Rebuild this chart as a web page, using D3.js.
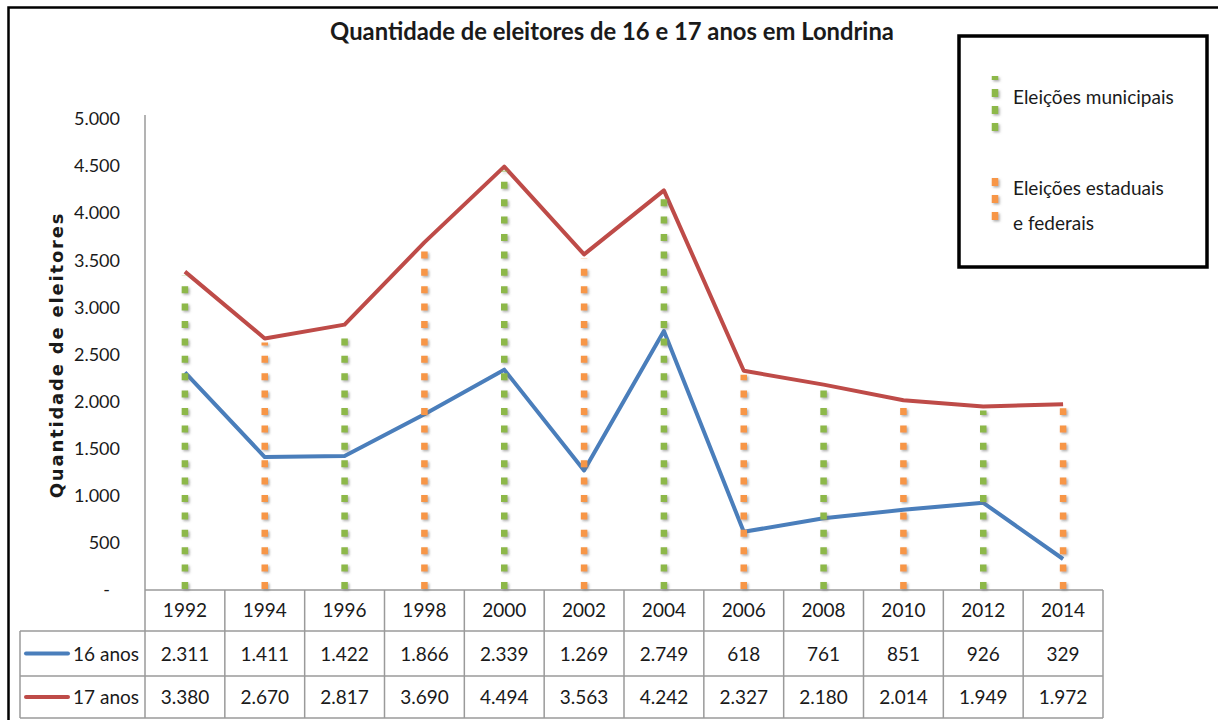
<!DOCTYPE html>
<html>
<head>
<meta charset="utf-8">
<script src="https://cdn.jsdelivr.net/npm/d3@7"></script>
<style>
  body { margin: 0; background: #fff; }
  svg { display: block; }
  text { font-family: Lato, "Open Sans", sans-serif; fill: #1a1a1a; }
</style>
</head>
<body>
<div id="chart"></div>
<script>
const years = ["1992", "1994", "1996", "1998", "2000", "2002", "2004", "2006", "2008", "2010", "2012", "2014"];
const anos16 = [2311, 1411, 1422, 1866, 2339, 1269, 2749, 618, 761, 851, 926, 329];
const anos17 = [3380, 2670, 2817, 3690, 4494, 3563, 4242, 2327, 2180, 2014, 1949, 1972];
const electionType = ["mun", "est", "mun", "est", "mun", "est", "mun", "est", "mun", "est", "mun", "est"];
const seriesNames = ["16 anos", "17 anos"];
const yTicks = [0, 500, 1000, 1500, 2000, 2500, 3000, 3500, 4000, 4500, 5000];
const legendLabels = [["Eleições municipais"], ["Eleições estaduais", "e federais"]];

const BLUE = "#4A7EBB";
const RED = "#BE4B48";
const GREEN = "#8DB84A";
const ORANGE = "#F79646";
const GRID = "#9a9a9a";

const W = 1218, H = 720;
const plot = { left: 145, right: 1103, top: 119, bottom: 590 };
const rowH = [41, 45, 42];
const labelLeft = 20;

const fmt = d => d === 0 ? "-" : d3.format(",")(d).replace(/,/g, ".");

const svg = d3.select("#chart")
    .append("svg")
    .attr("width", W)
    .attr("height", H);

const defs = svg.append("defs");
const shadow = defs.append("filter")
    .attr("id", "shadow")
    .attr("filterUnits", "userSpaceOnUse")
    .attr("x", 0).attr("y", 0)
    .attr("width", W).attr("height", H);
shadow.append("feDropShadow")
    .attr("dx", 1.5)
    .attr("dy", 1.5)
    .attr("stdDeviation", 1.2)
    .attr("flood-color", "#777")
    .attr("flood-opacity", 0.6);

// outer frame (top + left only visible)
svg.append("path")
    .attr("d", "M8.5," + H + " V7.5 H" + W)
    .attr("fill", "none")
    .attr("stroke", "#000")
    .attr("stroke-width", 2.5);

svg.append("text")
    .attr("x", 612)
    .attr("y", 40)
    .attr("text-anchor", "middle")
    .attr("font-size", 23.8)
    .attr("font-weight", "bold")
    .text("Quantidade de eleitores de 16 e 17 anos em Londrina");

const x = d3.scaleBand()
    .domain(years)
    .range([plot.left, plot.right]);

const y = d3.scaleLinear()
    .domain([0, 5000])
    .range([plot.bottom, plot.top]);

const yAxis = d3.axisLeft(y)
    .tickValues(yTicks)
    .tickSize(0)
    .tickPadding(25)
    .tickFormat(fmt);

const gy = svg.append("g")
    .attr("transform", "translate(" + plot.left + ",0)")
    .call(yAxis);
gy.select(".domain").remove();
gy.selectAll("text")
    .attr("font-size", 18)
    .attr("font-family", "Lato, sans-serif")
    .attr("fill", "#1a1a1a")
    .attr("dx", d => d === 0 ? -10 : 0);

svg.append("text")
    .attr("transform", "translate(63,355) rotate(-90)")
    .attr("text-anchor", "middle")
    .attr("font-size", 18)
    .attr("font-weight", "bold")
    .attr("letter-spacing", 1.8)
    .style("font-family", "'DejaVu Sans', sans-serif")
    .text("Quantidade de eleitores");

// table grid
const tableTop = plot.bottom;
const rowY = [tableTop, tableTop + rowH[0], tableTop + rowH[0] + rowH[1], tableTop + rowH[0] + rowH[1] + rowH[2]];
const grid = svg.append("g")
    .attr("stroke", GRID)
    .attr("stroke-width", 1.5)
    .attr("fill", "none");

grid.append("line")
    .attr("x1", plot.left).attr("x2", plot.left)
    .attr("y1", plot.top - 4).attr("y2", rowY[3]);
grid.append("line")
    .attr("x1", plot.left).attr("x2", plot.right)
    .attr("y1", rowY[0]).attr("y2", rowY[0]);
grid.append("line")
    .attr("x1", labelLeft).attr("x2", plot.right)
    .attr("y1", rowY[1]).attr("y2", rowY[1]);
grid.append("line")
    .attr("x1", labelLeft).attr("x2", plot.right)
    .attr("y1", rowY[2]).attr("y2", rowY[2]);
grid.append("line")
    .attr("x1", labelLeft).attr("x2", plot.right)
    .attr("y1", rowY[3]).attr("y2", rowY[3]);
grid.append("line")
    .attr("x1", labelLeft).attr("x2", labelLeft)
    .attr("y1", rowY[1]).attr("y2", rowY[3]);
grid.selectAll("line.col")
    .data(years)
    .join("line")
    .attr("class", "col")
    .attr("x1", d => x(d) + x.bandwidth()).attr("x2", d => x(d) + x.bandwidth())
    .attr("y1", rowY[0]).attr("y2", rowY[3]);

// table text
svg.append("g")
    .selectAll("text")
    .data(years)
    .join("text")
    .attr("x", d => x(d) + x.bandwidth() / 2)
    .attr("y", (rowY[0] + rowY[1]) / 2 + 6.5)
    .attr("text-anchor", "middle")
    .attr("font-size", 19)
    .text(d => d);

[anos16, anos17].forEach((vals, i) => {
    const cy = (rowY[i + 1] + rowY[i + 2]) / 2;
    svg.append("g")
        .selectAll("text")
        .data(vals)
        .join("text")
        .attr("x", (d, j) => x(years[j]) + x.bandwidth() / 2)
        .attr("y", cy + 7)
        .attr("text-anchor", "middle")
        .attr("font-size", 19)
        .text(d => fmt(d));

    svg.append("line")
        .attr("x1", 26).attr("x2", 68)
        .attr("y1", cy).attr("y2", cy)
        .attr("stroke", i === 0 ? BLUE : RED)
        .attr("stroke-width", 4)
        .attr("stroke-linecap", "round");

    svg.append("text")
        .attr("x", 139)
        .attr("y", cy + 7)
        .attr("text-anchor", "end")
        .attr("font-size", 19)
        .text(seriesNames[i]);
});

// series lines
const line = d3.line()
    .x((d, i) => x(years[i]) + x.bandwidth() / 2)
    .y(d => y(d));

svg.append("path")
    .datum(anos16)
    .attr("d", line)
    .attr("fill", "none")
    .attr("stroke", BLUE)
    .attr("stroke-width", 4)
    .attr("stroke-linejoin", "round");

svg.append("path")
    .datum(anos17)
    .attr("d", line)
    .attr("fill", "none")
    .attr("stroke", RED)
    .attr("stroke-width", 4)
    .attr("stroke-linejoin", "round");

// drop lines by election type, dashed from the axis upward
svg.append("g")
    .attr("filter", "url(#shadow)")
    .selectAll("line")
    .data(anos17)
    .join("line")
    .attr("x1", (d, i) => x(years[i]) + x.bandwidth() / 2)
    .attr("x2", (d, i) => x(years[i]) + x.bandwidth() / 2)
    .attr("y1", y(0) - 1)
    .attr("y2", d => y(d) + 4)
    .attr("stroke", (d, i) => electionType[i] === "mun" ? GREEN : ORANGE)
    .attr("stroke-width", 6.5)
    .attr("stroke-dasharray", "7,10.4");

// legend
const legend = svg.append("g");
legend.append("rect")
    .attr("x", 959)
    .attr("y", 36)
    .attr("width", 248)
    .attr("height", 231)
    .attr("fill", "#fff")
    .attr("stroke", "#000")
    .attr("stroke-width", 3.5);

const legendItems = [
    { color: GREEN, y1: 131, y2: 76, textY: [104] },
    { color: ORANGE, y1: 220, y2: 175, textY: [195, 230] }
];
legendItems.forEach((it, i) => {
    legend.append("line")
        .attr("filter", "url(#shadow)")
        .attr("x1", 995).attr("x2", 995)
        .attr("y1", it.y1).attr("y2", it.y2)
        .attr("stroke", it.color)
        .attr("stroke-width", 6.5)
        .attr("stroke-dasharray", "8,9");
    legendLabels[i].forEach((t, k) => {
        legend.append("text")
            .attr("x", 1013)
            .attr("y", it.textY[k])
            .attr("font-size", 19)
            .text(t);
    });
});
</script>
</body>
</html>
